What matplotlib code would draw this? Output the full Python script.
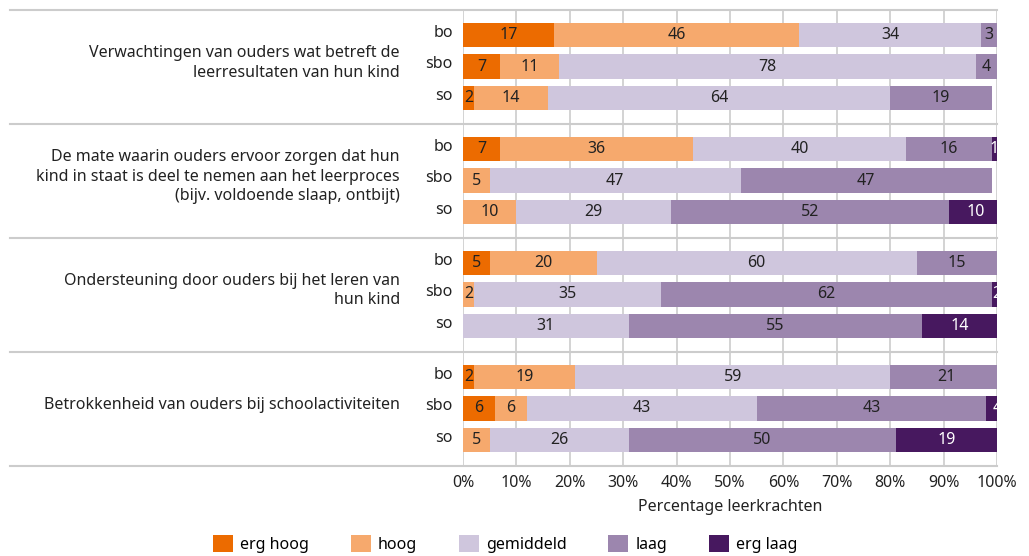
import matplotlib
matplotlib.use("Agg")
import matplotlib.pyplot as plt
import numpy as np
from matplotlib.patches import Patch

plt.rcParams["font.family"] = ["Noto Sans", "DejaVu Sans"]

# survey data: share of teachers per answer, per school type
questions = [
    "Verwachtingen van ouders wat betreft de\nleerresultaten van hun kind",
    "De mate waarin ouders ervoor zorgen dat hun\nkind in staat is deel te nemen aan het leerproces\n(bijv. voldoende slaap, ontbijt)",
    "Ondersteuning door ouders bij het leren van\nhun kind",
    "Betrokkenheid van ouders bij schoolactiviteiten",
]
school_types = ["bo", "sbo", "so"]
categories = ["erg hoog", "hoog", "gemiddeld", "laag", "erg laag"]

# one entry per bar: question x school type (bo, sbo, so)
erg_hoog = [17, 7, 2, 7, 0, 0, 5, 0, 0, 2, 6, 0]
hoog = [46, 11, 14, 36, 5, 10, 20, 2, 0, 19, 6, 5]
gemiddeld = [34, 78, 64, 40, 47, 29, 60, 35, 31, 59, 43, 26]
laag = [3, 4, 19, 16, 47, 52, 15, 62, 55, 21, 43, 50]
erg_laag = [0, 0, 0, 1, 0, 10, 0, 2, 14, 0, 4, 19]

colors = ["#ec6b00", "#f6a96d", "#cfc6dd", "#9c86ae", "#47185f"]
text_colors = ["#222222", "#222222", "#222222", "#222222", "white"]
grid_color = "#cccccc"
fs = 11.5

values = np.array([erg_hoog, hoog, gemiddeld, laag, erg_laag], dtype=float)

group_step = 3.62
ypos = np.array([g * group_step + r for g in range(len(questions)) for r in range(3)])

fig = plt.figure(figsize=(10.29, 5.56), dpi=100)
ax = fig.add_axes([463 / 1029, 1 - 465 / 556, 534 / 1029, 455 / 556])

left = np.zeros(len(ypos))
for k, cat in enumerate(categories):
    vals = values[k]
    ax.barh(ypos, vals, left=left, height=0.78, color=colors[k], zorder=3)
    for y, l, v in zip(ypos, left, vals):
        if v > 0:
            ax.text(l + v / 2, y, f"{int(v)}", ha="center", va="center",
                    fontsize=fs, color=text_colors[k], zorder=4, clip_on=True)
    left += vals

top = -0.8
bottom = (len(questions) - 1) * group_step + 2 + 0.8
ax.set_ylim(bottom, top)
ax.set_xlim(0, 100)

# vertical grid
ax.set_xticks(np.arange(0, 101, 10))
ax.set_xticklabels([f"{t}%" for t in range(0, 101, 10)], fontsize=fs, color="#222222")
ax.tick_params(axis="x", length=0, pad=7)
ax.grid(axis="x", color=grid_color, linewidth=1.2, zorder=0)
ax.set_axisbelow(True)
for s in ax.spines.values():
    s.set_visible(False)
ax.set_yticks([])

# group separators reaching into the label column
trans = matplotlib.transforms.blended_transform_factory(ax.transAxes, ax.transData)
for g in range(len(questions) + 1):
    ysep = g * group_step - 0.8
    ax.plot([-0.848, 1.0], [ysep, ysep], transform=trans, color=grid_color,
            linewidth=1.5, clip_on=False, zorder=2)

# school type labels and question labels
for y, lab in zip(ypos, school_types * len(questions)):
    ax.text(-0.019, y - 0.07, lab, transform=trans, ha="right", va="center",
            fontsize=fs, color="#222222")
for g, q in enumerate(questions):
    ax.text(-0.118, g * group_step + 0.88, q, transform=trans, ha="right", va="center",
            fontsize=fs, color="#222222", linespacing=1.3)

ax.set_xlabel("Percentage leerkrachten", fontsize=fs, color="#222222", labelpad=6)

handles = [Patch(facecolor=c, edgecolor="none") for c in colors]
fig.legend(handles, categories, loc="lower center", ncol=5, frameon=False,
           bbox_to_anchor=(0.491, -0.02), fontsize=fs, handlelength=1.25,
           handleheight=1.25, columnspacing=2.6, handletextpad=0.45)

fig.savefig("out.png", dpi=100)
